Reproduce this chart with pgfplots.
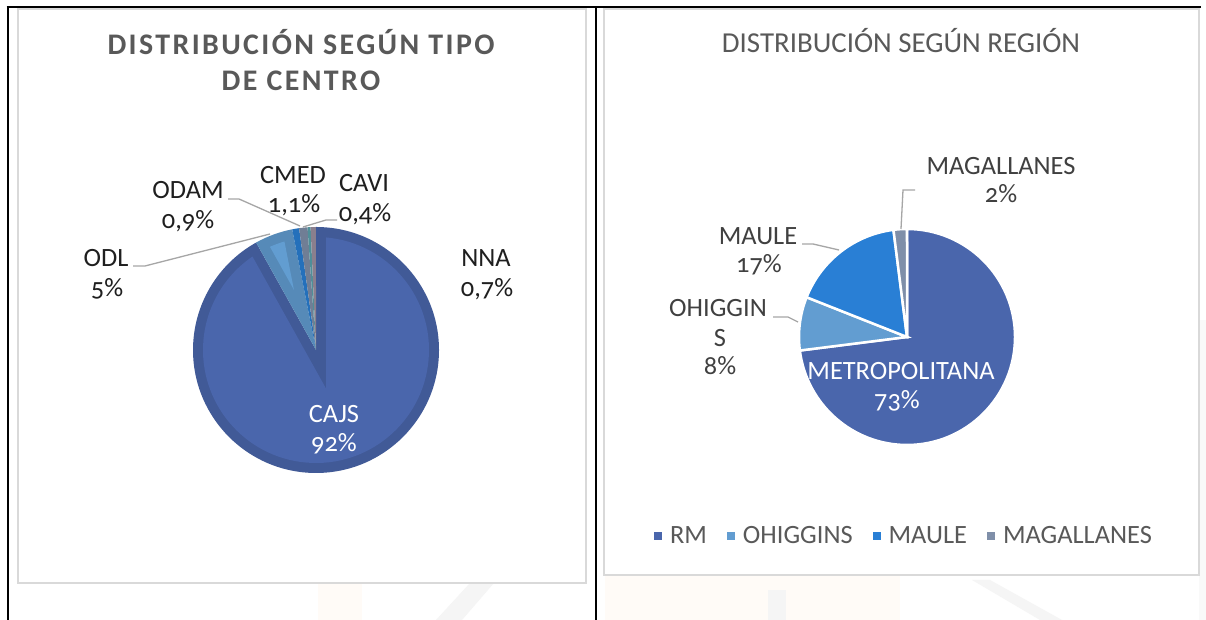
\documentclass[border=0pt]{standalone}
\usepackage{pgfplots}
\pgfplotsset{compat=1.18}
\usepackage{pgfplotstable}
\usepackage{fontspec}
\setmainfont{Carlito}[Numbers=OldStyle]
\usetikzlibrary{calc}

\definecolor{cA}{HTML}{4A66AC}
\definecolor{cB}{HTML}{629DD1}
\definecolor{cC}{HTML}{297FD5}
\definecolor{cD}{HTML}{7F8FA9}
\definecolor{cE}{HTML}{5AA2AE}
\definecolor{cF}{HTML}{9D90A0}
\definecolor{titlegray}{HTML}{595959}
\definecolor{labgray}{HTML}{404040}
\definecolor{leader}{HTML}{A6A6A6}
\definecolor{boxgray}{HTML}{D9D9D9}

\pgfplotstableread{
name value
CAJS 92
ODL 5
ODAM 0.9
CMED 1.1
CAVI 0.4
NNA 0.7
}\tipodata

\pgfplotstableread{
name value
RM 73
OHIGGINS 8
MAULE 17
MAGALLANES 2
}\regiondata

% cumulative angles, clockwise from 12 o'clock
\newcommand\pieangles[2]{%
  \pgfplotstablegetrowsof{#1}%
  \pgfmathtruncatemacro\pienrows{\pgfplotsretval-1}%
  \gdef\piesum{0}%
  \foreach \i in {0,...,\pienrows}{%
    \pgfplotstablegetelem{\i}{value}\of{#1}%
    \pgfmathsetmacro\tmp{\piesum+\pgfplotsretval}%
    \xdef\piesum{\tmp}%
  }%
  \gdef\piecum{90}%
  \foreach \i in {0,...,\pienrows}{%
    \pgfplotstablegetelem{\i}{value}\of{#1}%
    \pgfmathsetmacro\tmp{\piecum-(\pgfplotsretval/\piesum)*360}%
    \expandafter\xdef\csname #2s\i\endcsname{\piecum}%
    \expandafter\xdef\csname #2e\i\endcsname{\tmp}%
    \xdef\piecum{\tmp}%
  }%
}
\pieangles{\tipodata}{L}
\pieangles{\regiondata}{R}

% lighter inner face of a bevelled wedge (left chart)
\newcommand\bevelwedge[2]{%
  \expandafter\let\expandafter\bs\csname Ls#1\endcsname
  \expandafter\let\expandafter\be\csname Le#1\endcsname
  \pgfmathsetmacro\btd{10/sin((\bs-\be)/2)}%
  \pgfmathsetmacro\bta{(\bs+\be)/2}%
  \pgfmathsetmacro\bA{\bs-5.08}%
  \pgfmathsetmacro\bB{\be+5.08}%
  \edef\temp{\noexpand\fill[#2] ($(axis cs:0,0)+(\bta:\btd bp)$) -- ($(axis cs:0,0)+(\bA:113bp)$) arc[start angle=\bA, end angle=\bB, radius=113bp] -- cycle;}%
  \temp}

\newcommand\lab{\fontsize{26.5}{30}\selectfont}

\begin{document}
\begin{tikzpicture}[x=1bp,y=1bp]
% page background
\fill[white] (0,0) rectangle (1206,620);
% faint background picture remnants
\fill[gray!8] (436,0) -- (462,0) -- (494,37) -- (470,37) -- cycle;
\fill[orange!3] (318,0) rectangle (362,37);
\fill[orange!3] (605,0) rectangle (900,44);
\fill[gray!8] (768,0) rectangle (786,30);
\fill[gray!8] (972,40) -- (990,40) -- (1062,0) -- (1040,0) -- cycle;
\fill[gray!5] (1199,0) rectangle (1206,300);

% chart boxes
\draw[boxgray, line width=1.5bp, fill=white] (18,37) rectangle (586,611);
\draw[boxgray, line width=1.5bp, fill=white] (604,45) rectangle (1199,611);

% table rules
\draw[black, line width=2bp] (6.5,612.5) -- (1201,612.5);
\draw[black, line width=2bp] (7.5,0) -- (7.5,613.5);
\draw[black, line width=2bp] (595.5,0) -- (595.5,613.5);

% ---------- left pie ----------
\begin{axis}[hide axis, x=123bp, y=123bp, xmin=-1, xmax=1, ymin=-1, ymax=1,
  at={(316bp,270bp)}, anchor=center, clip=false]
\foreach \i/\c in {0/cA,1/cB,2/cC,3/cD,4/cE,5/cF}{%
  \edef\temp{\noexpand\fill[\c!88!black] (axis cs:0,0) -- ++(\csname Ls\i\endcsname:123bp) arc[start angle=\csname Ls\i\endcsname, end angle=\csname Le\i\endcsname, radius=123bp] -- cycle;}%
  \temp
}
\bevelwedge{0}{cA}
\bevelwedge{1}{cB}
\end{axis}

% ---------- right pie ----------
\begin{axis}[hide axis, x=108bp, y=108bp, xmin=-1, xmax=1, ymin=-1, ymax=1,
  at={(907bp,283bp)}, anchor=center, clip=false,
  legend image code/.code={\fill[#1] (0bp,-4bp) rectangle (8bp,4bp); \path (14bp,0bp);},
  legend columns=4,
  legend style={at={(0.486,-0.421)}, anchor=center, draw=none, fill=none,
    font=\lab, text=titlegray,
    /tikz/every even column/.append style={column sep=18bp}}]
\foreach \i/\c in {0/cA,1/cB,2/cC,3/cD}{%
  \edef\temp{\noexpand\fill[\c, draw=white, line width=2.5bp, line join=miter] (axis cs:0,0) -- ++(\csname Rs\i\endcsname:108bp) arc[start angle=\csname Rs\i\endcsname, end angle=\csname Re\i\endcsname, radius=108bp] -- cycle;}%
  \temp
}
\addlegendimage{fill=cA, draw=none}\addlegendentry{RM}
\addlegendimage{fill=cB, draw=none}\addlegendentry{OHIGGINS}
\addlegendimage{fill=cC, draw=none}\addlegendentry{MAULE}
\addlegendimage{fill=cD, draw=none}\addlegendentry{MAGALLANES}
\end{axis}

% ---------- titles ----------
\node[anchor=base, text=titlegray, font={\fontsize{30}{35}\selectfont\bfseries\addfontfeature{LetterSpace=8}}] at (301,565) {DISTRIBUCIÓN SEGÚN TIPO};
\node[anchor=base, text=titlegray, font={\fontsize{30}{35}\selectfont\bfseries\addfontfeature{LetterSpace=8}}] at (301,529) {DE CENTRO};
\node[anchor=base, text=titlegray, font={\fontsize{29}{34}\selectfont}] at (901,567) {DISTRIBUCIÓN SEGÚN REGIÓN};

% ---------- left labels ----------
\draw[leader, line width=1.3bp] (133,354) -- (145,354) -- (270,386);
\draw[leader, line width=1.3bp] (228,421) -- (239,421) -- (300,394);
\draw[leader, line width=1.3bp] (337,400) -- (326,400) -- (303,393);
\begin{scope}[every node/.style={anchor=base, font=\lab, text=black!88, inner sep=0pt}]
\node at (106,353) {ODL};
\node at (107,323) {5\%};
\node at (188,421) {ODAM};
\node at (188,391) {0,9\%};
\node at (293,436) {CMED};
\node at (294,407) {1,1\%};
\node at (364,428) {CAVI};
\node at (365,398) {0,4\%};
\node at (486,353) {NNA};
\node at (487,323) {0,7\%};
\node[text=white] at (334,197) {CAJS};
\node[text=white] at (334,168) {92\%};
\end{scope}

% ---------- right labels ----------
\draw[leader, line width=1.3bp] (915,430) -- (903,430) -- (901,391);
\draw[leader, line width=1.3bp] (802,376) -- (813,376) -- (839,370);
\draw[leader, line width=1.3bp] (773,303) -- (788,303) -- (798,298);
\begin{scope}[every node/.style={anchor=base, font=\lab, text=labgray, inner sep=0pt}]
\node at (1001,445) {MAGALLANES};
\node at (1001,417) {2\%};
\node at (758,375) {MAULE};
\node at (759,347) {17\%};
\node at (718,303) {OHIGGIN};
\node at (720,273) {S};
\node at (720,245) {8\%};
\node[text=white] at (901,240) {METROPOLITANA};
\node[text=white] at (897,211) {73\%};
\end{scope}

\pgfresetboundingbox
\useasboundingbox (0,0) rectangle (1206,620);
\end{tikzpicture}
\end{document}
